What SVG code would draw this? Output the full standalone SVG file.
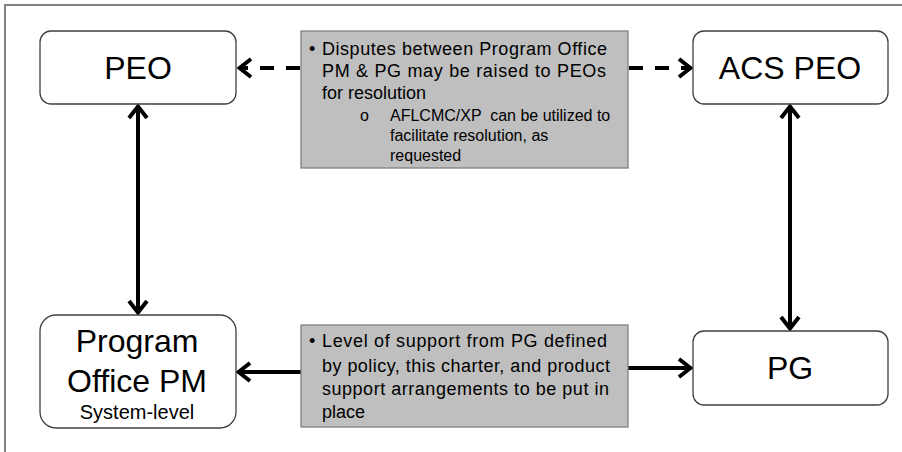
<svg xmlns="http://www.w3.org/2000/svg" width="902" height="452" viewBox="0 0 902 452">
<style>
.node{fill:#fff;stroke:#404040;stroke-width:1.3}
.note{fill:#bfbfbf;stroke:#808080;stroke-width:1.3}
.t{font-family:"Liberation Sans",Arial,sans-serif;fill:#000}
.big{font-size:32px;text-anchor:middle}
.body{font-size:18px}
.sub{font-size:16px}
.c{fill:none;stroke:#000;stroke-width:4}
</style>
<defs>
<marker id="ah" viewBox="0 0 16 22" refX="14" refY="11" markerWidth="16" markerHeight="22" markerUnits="userSpaceOnUse" orient="auto-start-reverse">
<path d="M2,2 L13.5,11 L2,20" fill="none" stroke="#000" stroke-width="4"/>
</marker>
</defs>
<rect width="902" height="452" fill="#fff"/>
<path d="M902,5 H5 V452" fill="none" stroke="#808080" stroke-width="2"/>
<g id="connectors">
<path class="c" d="M300,68 H239" stroke-dasharray="14,12" marker-end="url(#ah)"/>
<path class="c" d="M629,68 H691" stroke-dasharray="14,12" marker-end="url(#ah)"/>
<path class="c" d="M138,106 V313" marker-start="url(#ah)" marker-end="url(#ah)"/>
<path class="c" d="M790,106 V329" marker-start="url(#ah)" marker-end="url(#ah)"/>
<path class="c" d="M301,372 H238" marker-end="url(#ah)"/>
<path class="c" d="M628,368 H691" marker-end="url(#ah)"/>
</g>
<g id="peo">
<rect class="node" x="40" y="31" width="196" height="73" rx="11"/>
<text class="t big" x="138" y="79">PEO</text>
</g>
<g id="acs-peo">
<rect class="node" x="693" y="31" width="195" height="73" rx="11"/>
<text class="t big" x="790" y="79">ACS PEO</text>
</g>
<g id="program-office-pm">
<rect class="node" x="40" y="315" width="196" height="113" rx="16"/>
<text class="t big" x="137" y="352">Program</text>
<text class="t big" x="137" y="392">Office PM</text>
<text class="t" x="137" y="419" font-size="20" text-anchor="middle">System-level</text>
</g>
<g id="pg">
<rect class="node" x="693" y="331" width="195" height="74" rx="11"/>
<text class="t big" x="790" y="379">PG</text>
</g>
<g id="note-disputes">
<rect class="note" x="301" y="31" width="327" height="137"/>
<text class="t body" x="309" y="55">•</text>
<text class="t body" x="322" y="55" textLength="285" lengthAdjust="spacing">Disputes between Program Office</text>
<text class="t body" x="322" y="77" textLength="284" lengthAdjust="spacing">PM &amp; PG may be raised to PEOs</text>
<text class="t body" x="322" y="99">for resolution</text>
<text class="t sub" x="360" y="121">o</text>
<text class="t sub" x="390" y="121" xml:space="preserve">AFLCMC/XP  can be utilized to</text>
<text class="t sub" x="390" y="141">facilitate resolution, as</text>
<text class="t sub" x="390" y="161">requested</text>
</g>
<g id="note-support">
<rect class="note" x="301" y="325" width="327" height="102"/>
<text class="t body" x="309" y="347">•</text>
<text class="t body" x="322" y="347" textLength="285" lengthAdjust="spacing">Level of support from PG defined</text>
<text class="t body" x="322" y="372" textLength="288" lengthAdjust="spacing">by policy, this charter, and product</text>
<text class="t body" x="322" y="395" textLength="287" lengthAdjust="spacing">support arrangements to be put in</text>
<text class="t body" x="322" y="418">place</text>
</g>
</svg>
